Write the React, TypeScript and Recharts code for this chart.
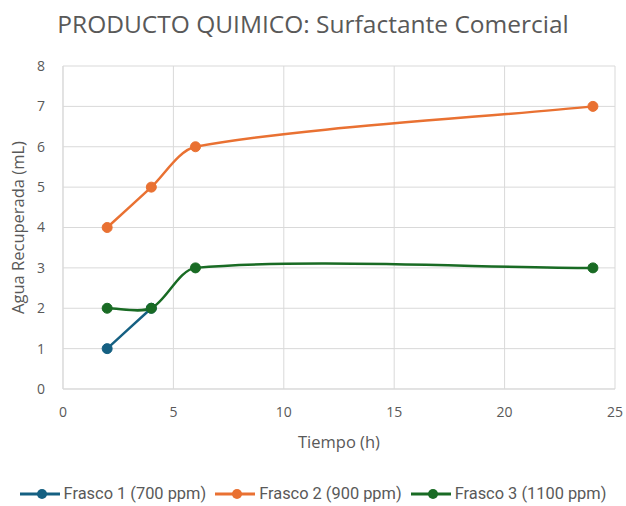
import { CartesianGrid, Line, LineChart, XAxis, YAxis } from "recharts";

const tiempoF1 = [2, 4];
const frasco1 = [1, 2];
const tiempo = [2, 4, 6, 24];
const frasco2 = [4, 5, 6, 7];
const frasco3 = [2, 2, 3, 3];
const xTicks = [0, 5, 10, 15, 20, 25];
const yTicks = [0, 1, 2, 3, 4, 5, 6, 7, 8];

const series = [
  { name: "Frasco 1 (700 ppm)", color: "#156082", data: tiempoF1.map((t, i) => ({ t, v: frasco1[i] })) },
  { name: "Frasco 2 (900 ppm)", color: "#E97132", data: tiempo.map((t, i) => ({ t, v: frasco2[i] })) },
  { name: "Frasco 3 (1100 ppm)", color: "#196B24", data: tiempo.map((t, i) => ({ t, v: frasco3[i] })) },
];

const GRAY = "#595959";
const FONT = "'Open Sans', 'Noto Sans', sans-serif";

// Excel-style smoothed line: bezier with tangents scaled by neighbouring segment lengths
function smoothCurve(context: any) {
  let pts: number[][] = [];
  const k = 0.28;
  return {
    areaStart() {},
    areaEnd() {},
    lineStart() {
      pts = [];
    },
    point(x: number, y: number) {
      pts.push([+x, +y]);
    },
    lineEnd() {
      if (!pts.length) return;
      context.moveTo(pts[0][0], pts[0][1]);
      const n = pts.length;
      const dist = (a: number[], b: number[]) => Math.hypot(b[0] - a[0], b[1] - a[1]);
      const ctrl = (i: number) => {
        const p0 = pts[Math.max(i - 1, 0)];
        const p1 = pts[i];
        const p2 = pts[Math.min(i + 1, n - 1)];
        const dp = dist(p0, p1);
        const dn = dist(p1, p2);
        const tx = p2[0] - p0[0];
        const ty = p2[1] - p0[1];
        const s = dp + dn || 1;
        return {
          out: [p1[0] + tx * (dn / s) * k, p1[1] + ty * (dn / s) * k],
          inc: [p1[0] - tx * (dp / s) * k, p1[1] - ty * (dp / s) * k],
        };
      };
      for (let i = 0; i < n - 1; i++) {
        const a = ctrl(i).out;
        const b = ctrl(i + 1).inc;
        context.bezierCurveTo(a[0], a[1], b[0], b[1], pts[i + 1][0], pts[i + 1][1]);
      }
    },
  };
}

function LegendRow() {
  return (
    <div
      style={{
        position: "absolute",
        top: 483,
        left: 0,
        width: 626,
        display: "flex",
        justifyContent: "center",
        gap: 9,
        fontFamily: "Roboto, sans-serif",
        fontSize: 16.4,
        color: GRAY,
        lineHeight: "22px",
      }}
    >
      {series.map((s) => (
        <div key={s.name} style={{ display: "flex", alignItems: "center", gap: 4 }}>
          <svg width={40} height={12}>
            <line x1={0} y1={6} x2={40} y2={6} stroke={s.color} strokeWidth={3} />
            <circle cx={22} cy={6} r={5} fill={s.color} />
          </svg>
          <span>{s.name}</span>
        </div>
      ))}
    </div>
  );
}

export default function App() {
  return (
    <div style={{ position: "absolute", left: 0, top: 0, width: 626, height: 506, background: "#fff" }}>
      <div
        style={{
          position: "absolute",
          top: 7,
          left: 0,
          width: 626,
          textAlign: "center",
          fontFamily: FONT,
          fontSize: 24.5,
          color: GRAY,
        }}
      >
        PRODUCTO QUIMICO: Surfactante Comercial
      </div>
      <LineChart width={626} height={460} margin={{ top: 66, right: 11, bottom: 11, left: 0 }}>
        <CartesianGrid stroke="#d9d9d9" strokeWidth={1} />
        <XAxis
          type="number"
          dataKey="t"
          domain={[0, 25]}
          ticks={xTicks}
          allowDuplicatedCategory={false}
          height={60}
          tickLine={false}
          tickMargin={12}
          axisLine={{ stroke: "#d9d9d9" }}
          tick={{ fill: GRAY, fontSize: 14, fontFamily: FONT }}
          label={{ value: "Tiempo (h)", position: "insideBottom", offset: 1, fill: GRAY, fontSize: 16.5, fontFamily: FONT }}
        />
        <YAxis
          type="number"
          domain={[0, 8]}
          ticks={yTicks}
          width={63}
          tickLine={false}
          tickMargin={12}
          axisLine={{ stroke: "#d9d9d9" }}
          tick={{ fill: GRAY, fontSize: 14, fontFamily: FONT }}
          label={{
            value: "Agua Recuperada (mL)",
            angle: -90,
            position: "insideLeft",
            offset: 18,
            fill: GRAY,
            fontSize: 16.5,
            fontFamily: FONT,
            style: { textAnchor: "middle" },
          }}
        />
        {series.map((s) => (
          <Line
            key={s.name}
            data={s.data}
            dataKey="v"
            name={s.name}
            type={smoothCurve as any}
            stroke={s.color}
            strokeWidth={2.5}
            dot={{ r: 5, fill: s.color, stroke: s.color, strokeWidth: 1 }}
            activeDot={false}
            isAnimationActive={false}
          />
        ))}
      </LineChart>
      <LegendRow />
    </div>
  );
}
